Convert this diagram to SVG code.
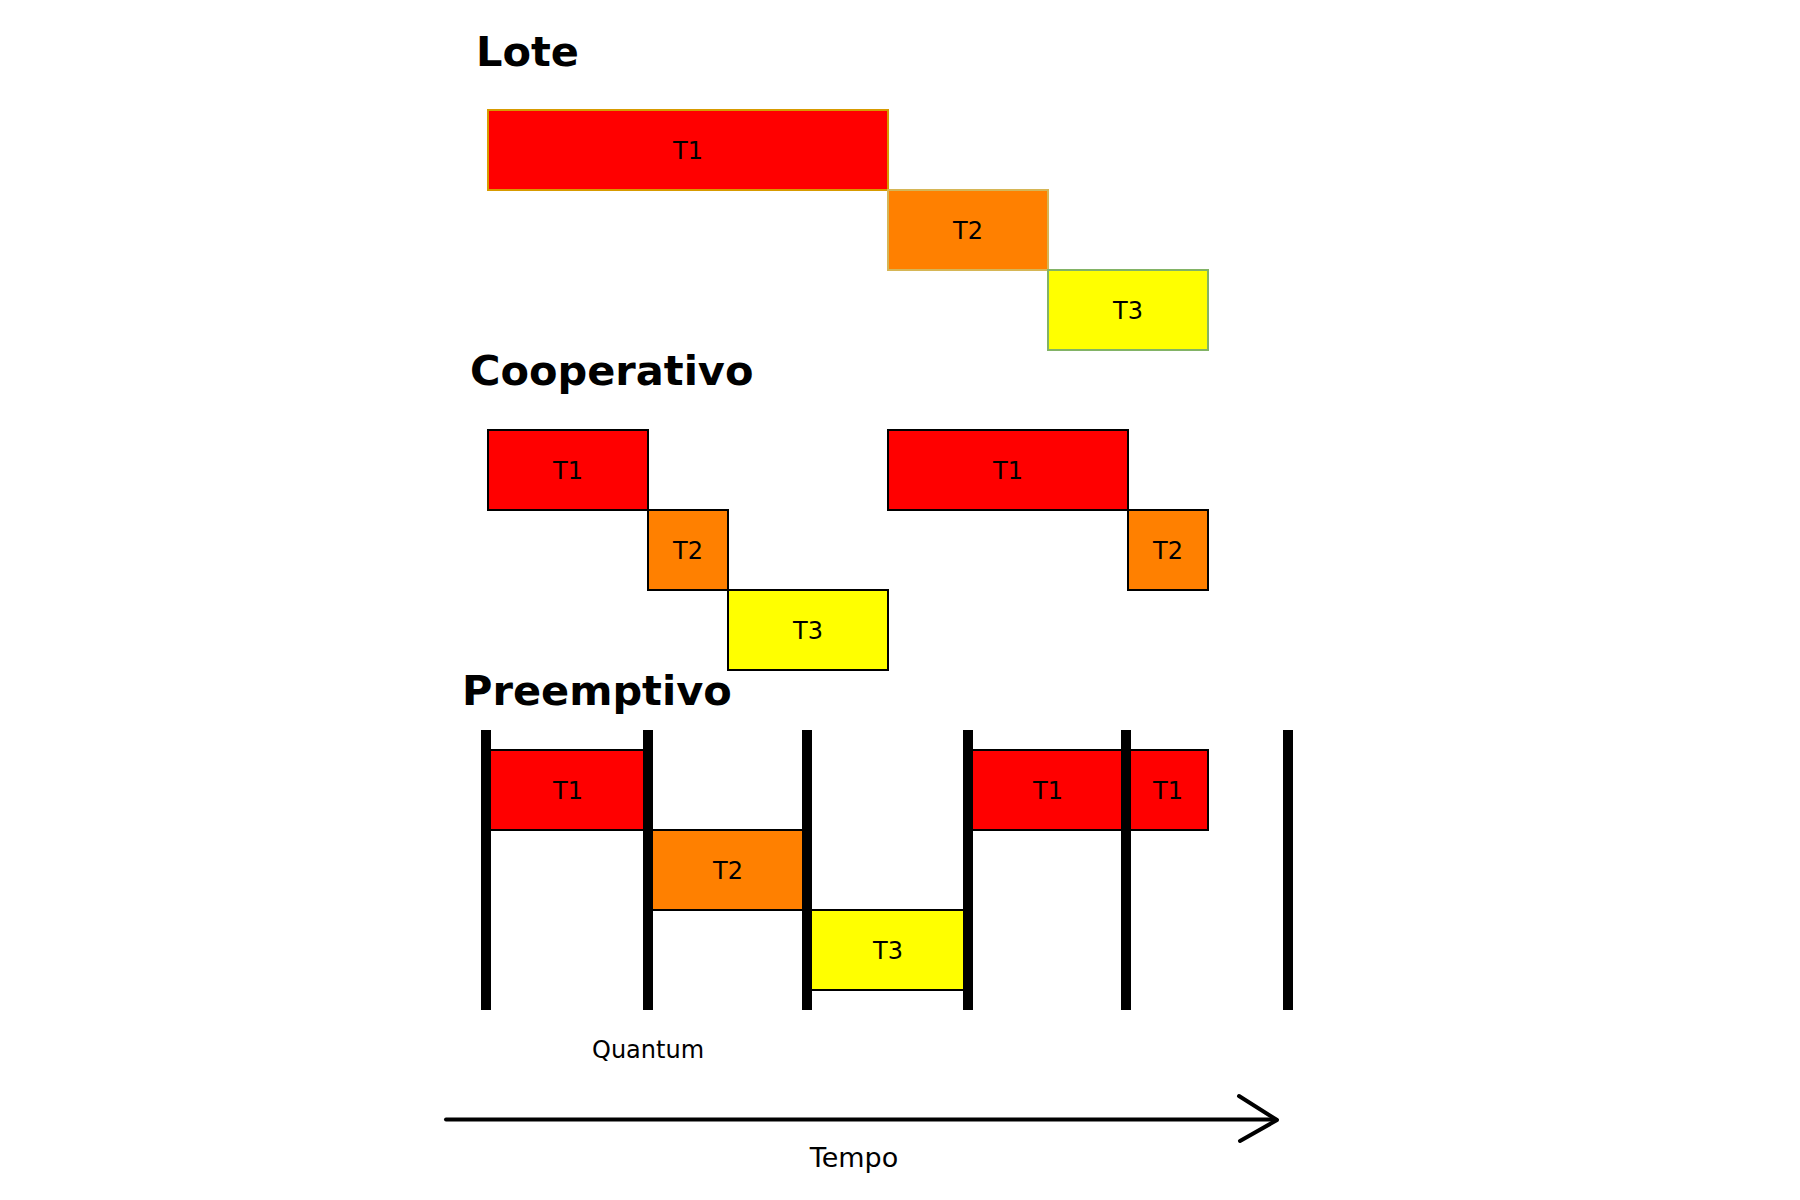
<svg xmlns="http://www.w3.org/2000/svg" width="1800" height="1200" viewBox="0 0 1800 1200">
<style>
.title{font-family:"DejaVu Sans",sans-serif;font-weight:bold;font-size:41.5px;fill:#000}
.lbl{font-family:"DejaVu Sans",sans-serif;font-size:24px;fill:#000;text-anchor:middle}
.t1{fill:#ff0000}
.t2{fill:#ff8000}
.t3{fill:#ffff00}
.blk{stroke:#000;stroke-width:2}
.bar{fill:#000}
</style>
<rect width="1800" height="1200" fill="#fff"/>
<text class="title" x="476" y="66">Lote</text>
<text class="title" x="470" y="385">Cooperativo</text>
<text class="title" x="462" y="705">Preemptivo</text>

<g id="lote-t1"><rect class="t1" x="488" y="110" width="400" height="80" stroke="#d79b00" stroke-width="2"/><text class="lbl" x="688" y="159">T1</text></g>
<g id="lote-t2"><rect class="t2" x="888" y="190" width="160" height="80" stroke="#d6b656" stroke-width="2"/><text class="lbl" x="968" y="239">T2</text></g>
<g id="lote-t3"><rect class="t3" x="1048" y="270" width="160" height="80" stroke="#82b366" stroke-width="2"/><text class="lbl" x="1128" y="319">T3</text></g>

<g id="coop-t1a"><rect class="t1 blk" x="488" y="430" width="160" height="80"/><text class="lbl" x="568" y="479">T1</text></g>
<g id="coop-t2a"><rect class="t2 blk" x="648" y="510" width="80" height="80"/><text class="lbl" x="688" y="559">T2</text></g>
<g id="coop-t3"><rect class="t3 blk" x="728" y="590" width="160" height="80"/><text class="lbl" x="808" y="639">T3</text></g>
<g id="coop-t1b"><rect class="t1 blk" x="888" y="430" width="240" height="80"/><text class="lbl" x="1008" y="479">T1</text></g>
<g id="coop-t2b"><rect class="t2 blk" x="1128" y="510" width="80" height="80"/><text class="lbl" x="1168" y="559">T2</text></g>

<g id="pre-t1a"><rect class="t1 blk" x="488" y="750" width="160" height="80"/><text class="lbl" x="568" y="799">T1</text></g>
<g id="pre-t2"><rect class="t2 blk" x="648" y="830" width="160" height="80"/><text class="lbl" x="728" y="879">T2</text></g>
<g id="pre-t3"><rect class="t3 blk" x="808" y="910" width="160" height="80"/><text class="lbl" x="888" y="959">T3</text></g>
<g id="pre-t1b"><rect class="t1 blk" x="968" y="750" width="160" height="80"/><text class="lbl" x="1048" y="799">T1</text></g>
<g id="pre-t1c"><rect class="t1 blk" x="1128" y="750" width="80" height="80"/><text class="lbl" x="1168" y="799">T1</text></g>

<g id="bars">
<rect class="bar" x="481" y="730" width="10" height="280"/>
<rect class="bar" x="643" y="730" width="10" height="280"/>
<rect class="bar" x="802" y="730" width="10" height="280"/>
<rect class="bar" x="963" y="730" width="10" height="280"/>
<rect class="bar" x="1121" y="730" width="10" height="280"/>
<rect class="bar" x="1283" y="730" width="10" height="280"/>
</g>
<text class="lbl" x="648" y="1058">Quantum</text>

<g id="connectors" fill="none" stroke="#000" stroke-width="4" stroke-linecap="round" stroke-linejoin="round">
<line x1="446" y1="1119.5" x2="1275" y2="1119.5"/>
<polyline points="1239,1096 1277,1120 1240,1141"/>
</g>
<text class="lbl" x="854" y="1167" style="font-size:27px">Tempo</text>
</svg>
